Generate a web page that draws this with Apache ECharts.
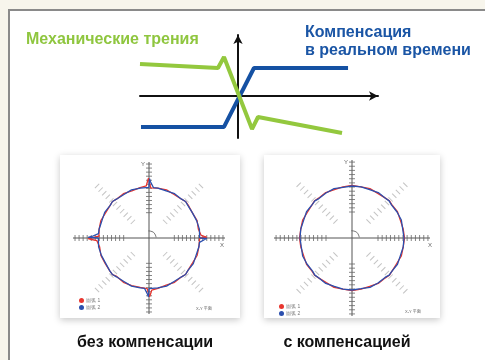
<!DOCTYPE html>
<html>
<head>
<meta charset="utf-8">
<script src="https://cdn.jsdelivr.net/npm/echarts@6/dist/echarts.min.js"></script>
<style>
html,body{margin:0;padding:0;background:#f7f5ec;}
#main{width:485px;height:360px;}
</style>
</head>
<body>
<div id="main"></div>
<script>
// верхняя схема: трение и компенсация
var frictionLine = [[-7, 2.29], [-1.43, 2.0], [-1.0, 2.79], [1.0, -2.36], [1.43, -1.5], [7.43, -2.64]];
var compensLine = [[-6.93, -2.21], [-1.0, -2.21], [1.14, 2.0], [7.86, 2.0]];

// круговой тест без компенсации [радиус, угол]
var redBefore = [[1.0,0],[1.14,0.5],[1.10,1.5],[1.03,3],[1.0,5],[0.99,10],[1.01,20],[0.99,30],[1.01,40],[1.02,45],[1.0,50],[0.99,60],[1.01,70],[1.0,80],[0.99,88],[1.0,90],[1.18,90.5],[1.12,91.5],[1.03,93],[1.0,95],[1.01,100],[0.99,110],[1.01,120],[1.0,130],[1.02,135],[1.0,140],[0.99,150],[1.01,160],[1.0,170],[0.99,178],[1.0,180],[1.2,180.5],[1.13,181.5],[1.03,183],[1.0,185],[0.99,190],[1.01,200],[1.0,210],[1.01,220],[1.02,225],[0.99,230],[1.01,240],[1.0,250],[0.99,260],[1.0,268],[1.0,270],[1.16,270.5],[1.11,271.5],[1.03,273],[1.0,275],[1.01,280],[0.99,290],[1.01,300],[1.0,310],[1.02,315],[1.0,320],[0.99,330],[1.01,340],[1.0,350],[1.0,360]];
var blueBefore = [[1.0,0],[1.01,10],[1.0,20],[0.99,30],[1.0,40],[1.02,45],[1.0,50],[1.01,60],[0.99,70],[1.0,80],[1.0,85],[1.03,87],[1.11,88.5],[1.17,89.5],[1.0,90],[0.99,92],[1.0,100],[1.01,110],[0.99,120],[1.0,130],[1.02,135],[1.0,140],[1.01,150],[0.99,160],[1.0,170],[1.0,175],[1.03,177],[1.13,178.5],[1.2,179.5],[1.0,180],[0.99,182],[1.01,190],[1.0,200],[0.99,210],[1.01,220],[1.02,225],[1.0,230],[0.99,240],[1.01,250],[1.0,260],[1.0,265],[1.03,267],[1.11,268.5],[1.16,269.5],[1.0,270],[0.99,272],[1.0,280],[1.01,290],[0.99,300],[1.0,310],[1.02,315],[1.0,320],[1.01,330],[0.99,340],[1.0,350],[1.0,355],[1.03,357],[1.1,358.5],[1.14,359.5],[1.0,360]];

// круговой тест с компенсацией
var redAfter = [[1.01,0],[1.0,10],[0.99,20],[1.01,30],[1.0,40],[1.015,45],[1.0,50],[0.99,60],[1.01,70],[1.0,80],[1.01,90],[1.0,100],[0.99,110],[1.01,120],[1.0,130],[1.015,135],[1.0,140],[0.99,150],[1.01,160],[1.0,170],[1.01,180],[1.0,190],[0.99,200],[1.01,210],[1.0,220],[1.015,225],[1.0,230],[0.99,240],[1.01,250],[1.0,260],[1.01,270],[1.0,280],[0.99,290],[1.01,300],[1.0,310],[1.015,315],[1.0,320],[0.99,330],[1.01,340],[1.0,350],[1.01,360]];
var blueAfter = [[1.0,0],[0.99,10],[1.01,20],[1.0,30],[0.99,40],[1.01,45],[1.0,50],[1.01,60],[0.99,70],[1.0,80],[1.0,90],[0.99,100],[1.01,110],[1.0,120],[0.99,130],[1.01,135],[1.0,140],[1.01,150],[0.99,160],[1.0,170],[1.0,180],[0.99,190],[1.01,200],[1.0,210],[0.99,220],[1.01,225],[1.0,230],[1.01,240],[0.99,250],[1.0,260],[1.0,270],[0.99,280],[1.01,290],[1.0,300],[0.99,310],[1.01,315],[1.0,320],[1.01,330],[0.99,340],[1.0,350],[1.0,360]];

// шкалы на осях и диагоналях
var axisTickR = [0.5, 0.58, 0.66, 0.74, 0.82, 0.9, 0.98, 1.06, 1.14, 1.22, 1.3, 1.38, 1.46];
var diagTickR = [0.45, 0.55, 0.65, 0.75, 0.85, 0.95, 1.05, 1.15, 1.25, 1.35, 1.45];
var angleArc = [[0.14, 95], [0.14, 65], [0.14, 35], [0.14, 5]];
var legendNames = ['圆弧 1', '圆弧 2'];

function ticksAt(radii, angles) {
    var out = [];
    angles.forEach(function (a) {
        radii.forEach(function (r) { out.push([r, a]); });
    });
    return out;
}

var myChart = echarts.init(document.getElementById('main'));

var series = [
    {type: 'line', xAxisIndex: 0, yAxisIndex: 0, data: compensLine, symbol: 'none',
        lineStyle: {color: '#1551a3', width: 4}, z: 3},
    {type: 'line', xAxisIndex: 0, yAxisIndex: 0, data: frictionLine, symbol: 'none',
        lineStyle: {color: '#93c83e', width: 4}, z: 4}
];

var polars = [];
var angleAxes = [];
var radiusAxes = [];
var legends = [];
var panels = [
    {center: [149, 238], radius: 76, red: redBefore, blue: blueBefore, legend: [74, 293]},
    {center: [352, 238], radius: 78, red: redAfter, blue: blueAfter, legend: [274, 299]}
];

panels.forEach(function (p, i) {
    polars.push({center: p.center, radius: p.radius});
    angleAxes.push({
        polarIndex: i, type: 'value', min: 0, max: 360, interval: 90,
        startAngle: 0, clockwise: false,
        axisLine: {show: false}, axisTick: {show: false}, axisLabel: {show: false},
        splitLine: {show: true, lineStyle: {color: '#555', width: 1}}
    });
    radiusAxes.push({
        polarIndex: i, type: 'value', min: 0, max: 1.5,
        axisLine: {show: false}, axisTick: {show: false}, axisLabel: {show: false},
        splitLine: {show: false}
    });
    // шкалы
    series.push({type: 'scatter', coordinateSystem: 'polar', polarIndex: i, silent: true,
        data: ticksAt(axisTickR, [0, 180]), symbol: 'rect', symbolSize: [1, 6],
        itemStyle: {color: '#666'}});
    series.push({type: 'scatter', coordinateSystem: 'polar', polarIndex: i, silent: true,
        data: ticksAt(axisTickR, [90, 270]), symbol: 'rect', symbolSize: [6, 1],
        itemStyle: {color: '#666'}});
    series.push({type: 'scatter', coordinateSystem: 'polar', polarIndex: i, silent: true,
        data: ticksAt(diagTickR, [45, 225]), symbol: 'rect', symbolSize: [1, 6], symbolRotate: 45,
        itemStyle: {color: '#b4b4b4'}});
    series.push({type: 'scatter', coordinateSystem: 'polar', polarIndex: i, silent: true,
        data: ticksAt(diagTickR, [135, 315]), symbol: 'rect', symbolSize: [1, 6], symbolRotate: -45,
        itemStyle: {color: '#b4b4b4'}});
    series.push({type: 'line', coordinateSystem: 'polar', polarIndex: i, silent: true,
        data: angleArc, smooth: true, symbol: 'none', lineStyle: {color: '#555', width: 0.8}});
    // траектории
    series.push({name: legendNames[0], type: 'line', coordinateSystem: 'polar', polarIndex: i,
        data: p.red, symbol: 'none', lineStyle: {color: '#e8362f', width: 1.3}, itemStyle: {color: '#e8362f'}, z: 5});
    series.push({name: legendNames[1], type: 'line', coordinateSystem: 'polar', polarIndex: i,
        data: p.blue, symbol: 'none', lineStyle: {color: '#2b4fae', width: 1.3}, itemStyle: {color: '#2b4fae'}, z: 5});
    legends.push({
        data: legendNames, left: p.legend[0], top: p.legend[1], orient: 'vertical',
        icon: 'circle', itemWidth: 5, itemHeight: 5, itemGap: 2, selectedMode: false,
        textStyle: {fontSize: 5, color: '#777', padding: [0, 0, 0, -3]}
    });
});

var txt = function (x, y, s, color, size, align) {
    return {type: 'text', x: x, y: y, z: 10,
        style: {text: s, fill: color, align: align || 'left', verticalAlign: 'middle',
            font: 'bold ' + size + 'px "Liberation Sans", Arial, sans-serif'}};
};
var small = function (x, y, s, size) {
    return {type: 'text', x: x, y: y, z: 10,
        style: {text: s, fill: '#666', verticalAlign: 'middle',
            font: size + 'px "Liberation Sans", "Noto Sans CJK SC", sans-serif'}};
};

option = {
    backgroundColor: '#f7f5ec',
    animation: false,
    grid: {left: 140, top: 35, width: 238, height: 103},
    xAxis: {
        type: 'value', min: -7, max: 10,
        axisLine: {onZero: true, symbol: ['none', 'arrow'], symbolSize: [7, 9],
            lineStyle: {color: '#111', width: 2}},
        axisTick: {show: false}, axisLabel: {show: false}, splitLine: {show: false}
    },
    yAxis: {
        type: 'value', min: -3, max: 4.36,
        axisLine: {onZero: true, symbol: ['none', 'arrow'], symbolSize: [7, 9],
            lineStyle: {color: '#111', width: 2}},
        axisTick: {show: false}, axisLabel: {show: false}, splitLine: {show: false}
    },
    polar: polars,
    angleAxis: angleAxes,
    radiusAxis: radiusAxes,
    legend: legends,
    graphic: [
        {type: 'rect', z: -10, shape: {x: 9, y: 10, width: 520, height: 400},
            style: {fill: '#fff', stroke: '#8a8a8a', lineWidth: 2}},
        {type: 'rect', z: -9, shape: {x: 60, y: 155, width: 180, height: 163},
            style: {fill: '#fff', shadowBlur: 7, shadowColor: 'rgba(0,0,0,0.22)', shadowOffsetY: 2}},
        {type: 'rect', z: -9, shape: {x: 264, y: 155, width: 176, height: 163},
            style: {fill: '#fff', shadowBlur: 7, shadowColor: 'rgba(0,0,0,0.22)', shadowOffsetY: 2}},
        txt(26, 40, 'Механические трения', '#8fc63f', 16),
        txt(305, 33, 'Компенсация', '#1a55a5', 16),
        txt(305, 51, 'в реальном времени', '#1a55a5', 16),
        txt(145, 343, 'без компенсации', '#111', 16, 'center'),
        txt(347, 343, 'с компенсацией', '#111', 16, 'center'),
        small(141, 164, 'Y', 6), small(220, 245, 'X', 6),
        small(344, 162, 'Y', 6), small(428, 245, 'X', 6),
        small(196, 309, 'X-Y 平面', 4), small(405, 312, 'X-Y 平面', 4)
    ],
    series: series
};

myChart.setOption(option);
</script>
</body>
</html>
